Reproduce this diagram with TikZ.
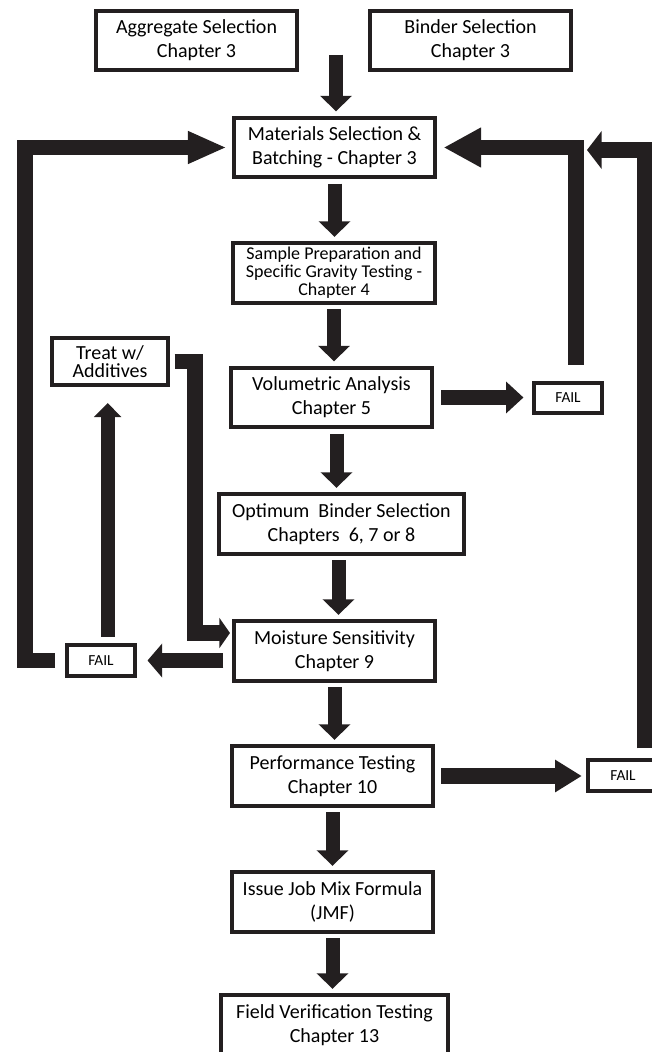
\documentclass[tikz,border=0pt]{standalone}
\usepackage{fontspec}
\setmainfont{Carlito}
\usetikzlibrary{arrows.meta}
\definecolor{ink}{HTML}{231F20}

\begin{document}
\begin{tikzpicture}[x = 0.75pt, y = -0.75pt,
        every node/.style = {draw = ink, line width = 2.8pt, align = center, inner sep = 0pt},
        box/.style = {minimum width = 151pt, minimum height = 44.5pt, font = \fontsize{15}{18}\selectfont},
        failbox/.style = {minimum width = 51pt, minimum height = 23pt, font = \fontsize{11.5}{14}\selectfont},
        down/.style = {ink, line width = 10.5pt, -{Triangle[width = 23pt, length = 11.5pt]}, shorten < = 3.5pt, shorten > = 3.5pt},
        side/.style = {ink, line width = 11.5pt},
        loopline/.style = {ink, line width = 11.5pt, line join = miter}
    ]
    \useasboundingbox (0,0) rectangle (652,1052);
    \clip (0,0) rectangle (652,1052);

    % boxes of the main column
    \node[box] (agg) at (196.5,40.5) {Aggregate Selection\\Chapter 3};
    \node[box] (bind) at (470.5,40.5) {Binder Selection\\Chapter 3};
    \node[box] (mat) at (334.5,147.5) {Materials Selection \&\\Batching - Chapter 3};
    \node[box, font = \fontsize{13.5}{13.5}\selectfont] (samp) at (334,273) {Sample Preparation and\\Specific Gravity Testing -\\Chapter 4};
    \node[box] (vol) at (331.5,397.5) {Volumetric Analysis\\Chapter 5};
    \node[box, minimum width = 184pt] (opt) at (341.5,524) {Optimum\ \ Binder Selection\\Chapters\ \ 6, 7 or 8};
    \node[box] (moist) at (334.5,651) {Moisture Sensitivity\\Chapter 9};
    \node[box] (perf) at (332.5,776) {Performance Testing\\Chapter 10};
    \node[box] (jmf) at (332.5,902) {Issue Job Mix Formula\\(JMF)};
    \node[box, minimum width = 170pt] (field) at (334.5,1025) {Field Verification Testing\\Chapter 13};

    % side boxes
    \node[box, minimum width = 87pt, minimum height = 35.5pt, font = \fontsize{15}{13.5}\selectfont] (treat) at (110,361.5) {Treat w/\\Additives};
    \node[failbox] (fail1) at (568,398) {FAIL};
    \node[failbox] (fail2) at (101,660.5) {FAIL};
    \node[failbox, minimum width = 52pt] (fail3) at (623,775.5) {FAIL};

    % downward flow
    \coordinate (join) at (336,50);
    \draw[down] (join) -- (join |- mat.north);
    \draw[down] (mat.south) -- (mat.south |- samp.north);
    \draw[down] (samp.south) -- (samp.south |- vol.north);
    \draw[down] (vol.south) ++(5,0) coordinate (v) -- (v |- opt.north);
    \draw[down] (opt.south) ++(-3,0) coordinate (o) -- (o |- moist.north);
    \draw[down] (moist.south) -- (moist.south |- perf.north);
    \draw[down] (perf.south) -- (perf.south |- jmf.north);
    \draw[down] (jmf.south) -- (jmf.south |- field.north);

    % fail branches
    \draw[side, -{Triangle[width = 23pt, length = 13pt]}, shorten < = 5.5pt, shorten > = 6.5pt] (vol.east) -- (vol.east -| fail1.west);
    \draw[side, -{Triangle[width = 25pt, length = 11pt]}, shorten < = 6.5pt, shorten > = 8pt] (moist.west |- fail2.east) -- (fail2.east);
    \draw[side, -{Triangle[width = 23pt, length = 20pt]}, shorten < = 4.5pt, shorten > = 3.5pt] (perf.east) -- (perf.east -| fail3.west);

    % loops back
    \draw[side, line width = 10.5pt, -{Triangle[width = 20pt, length = 10.5pt]}, shorten < = 5pt, shorten > = 12pt] ([xshift = 5pt]fail2.north) -- ([xshift = 5pt]fail2.north |- treat.south);
    \draw[loopline, -{Triangle[width = 22.5pt, length = 8pt]}, shorten < = 3.5pt, shorten > = 1.5pt] (treat.east) -- ++(25,0) |- ([yshift = 13.5pt]moist.west);
    \draw[loopline, -{Triangle[width = 22.5pt, length = 29pt]}, shorten < = 7.5pt, shorten > = 4pt] (fail2.west) -- ++(-40,0) |- (mat.west);
    \draw[loopline, -{Triangle[width = 28pt, length = 28pt]}, shorten < = 12pt, shorten > = 5pt] ([xshift = 6pt]fail1.north) |- (mat.east);
    \coordinate (outend) at (587,150);
    \draw[loopline, -{Triangle[width = 28pt, length = 11pt]}, shorten < = 7.5pt] ([xshift = 16.5pt]fail3.north) |- (outend);
\end{tikzpicture}
\end{document}
